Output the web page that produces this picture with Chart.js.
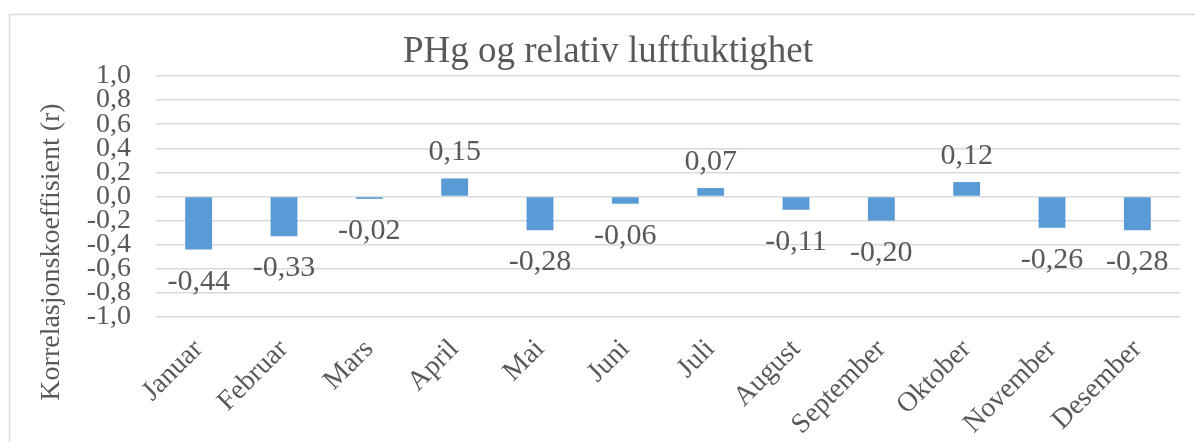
<!DOCTYPE html>
<html>
<head>
<meta charset="utf-8">
<script src="https://cdn.jsdelivr.net/npm/chart.js@4/dist/chart.umd.min.js"></script>
<style>
  html, body { margin: 0; padding: 0; background: #ffffff; }
  #c { display: block; }
</style>
</head>
<body>
<canvas id="c" width="1195" height="442"></canvas>
<script>
const categories = ["Januar", "Februar", "Mars", "April", "Mai", "Juni", "Juli", "August", "September", "Oktober", "November", "Desember"];
const values = [-0.44, -0.33, -0.02, 0.15, -0.28, -0.06, 0.07, -0.11, -0.20, 0.12, -0.26, -0.28];
const chartTitle = "PHg og relativ luftfuktighet";
const yAxisTitle = "Korrelasjonskoeffisient (r)";
const yMin = -1.0, yMax = 1.0, yStep = 0.2;

const TEXT = "#595959";
const GRID = "#d9d9d9";
const BAR = "#5b9bd5";
const SERIF = "'Liberation Serif', 'Times New Roman', serif";

function fmt(v, d) {
  if (Math.abs(v) < 1e-9) v = 0;
  return v.toFixed(d).replace(".", ",");
}

const framePlugin = {
  id: "frame",
  beforeDraw(chart) {
    const ctx = chart.ctx;
    ctx.save();
    ctx.strokeStyle = GRID;
    ctx.lineWidth = 1.5;
    ctx.strokeRect(9.5, 14.5, chart.width + 50, chart.height + 50);
    ctx.restore();
  },
  afterDraw(chart) {
    const ctx = chart.ctx;
    // chart title
    ctx.save();
    ctx.fillStyle = TEXT;
    ctx.font = "37px " + SERIF;
    ctx.textAlign = "center";
    ctx.textBaseline = "alphabetic";
    ctx.fillText(chartTitle, 608, 62);
    ctx.restore();
    // y axis title
    ctx.save();
    ctx.fillStyle = TEXT;
    ctx.font = "28px " + SERIF;
    ctx.textAlign = "center";
    ctx.textBaseline = "middle";
    ctx.translate(52, 252);
    ctx.rotate(-Math.PI / 2);
    ctx.fillText(yAxisTitle, 0, 0);
    ctx.restore();
    // data labels
    const meta = chart.getDatasetMeta(0);
    ctx.save();
    ctx.fillStyle = TEXT;
    ctx.font = "30px " + SERIF;
    ctx.textAlign = "center";
    ctx.textBaseline = "alphabetic";
    meta.data.forEach((bar, i) => {
      const v = values[i];
      const y = v < 0 ? bar.y + 40 : bar.y - 18;
      ctx.fillText(fmt(v, 2), bar.x, y);
    });
    ctx.restore();
  }
};

new Chart(document.getElementById("c"), {
  type: "bar",
  data: {
    labels: categories,
    datasets: [{
      data: values,
      backgroundColor: BAR,
      borderWidth: 0,
      barPercentage: 0.315,
      categoryPercentage: 1.0
    }]
  },
  options: {
    responsive: false,
    devicePixelRatio: 1,
    animation: false,
    layout: { padding: { left: 0, right: 15, top: 76, bottom: 0 } },
    plugins: {
      legend: { display: false },
      tooltip: { enabled: false },
      title: { display: false }
    },
    scales: {
      x: {
        grid: { display: false, drawTicks: false },
        border: { display: false },
        ticks: {
          color: TEXT,
          font: { family: SERIF, size: 28 },
          minRotation: 45,
          maxRotation: 45,
          autoSkip: false,
          padding: 16
        },
        afterFit(scale) { scale.height = 125; }
      },
      y: {
        min: yMin,
        max: yMax,
        grid: { color: GRID, lineWidth: 1.5, drawTicks: false },
        border: { display: false },
        ticks: {
          stepSize: yStep,
          autoSkip: false,
          color: TEXT,
          font: { family: SERIF, size: 28, lineHeight: 1 },
          padding: 25,
          callback: (v) => fmt(v, 1)
        },
        afterFit(scale) { scale.width = 156; }
      }
    }
  },
  plugins: [framePlugin]
});
</script>
</body>
</html>
